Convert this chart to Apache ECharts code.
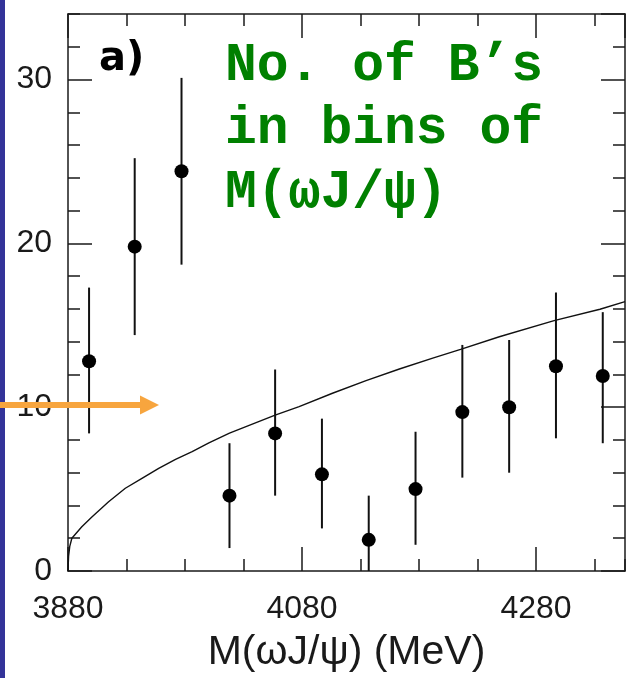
<!DOCTYPE html>
<html><head><meta charset="utf-8">
<script src="https://cdn.jsdelivr.net/npm/echarts@6/dist/echarts.min.js"></script>
<style>html,body{margin:0;padding:0;background:#fff}#c{width:628px;height:678px}</style>
</head><body><div id="c"></div>
<script>
// ---- data ----
const massCenters = [3898, 3937, 3977, 4018, 4057, 4097, 4137, 4177, 4217, 4257, 4297, 4337];
const counts      = [12.8, 19.8, 24.4, 4.6, 8.4, 5.9, 1.9, 5.0, 9.7, 10.0, 12.5, 11.9];
const errLow      = [8.4, 14.4, 18.7, 1.4, 4.6, 2.6, 0.0, 1.6, 5.7, 6.0, 8.1, 7.8];
const errHigh     = [17.3, 25.2, 30.1, 7.8, 12.3, 9.3, 4.6, 8.5, 13.8, 14.1, 17.0, 15.8];
const curveMass   = [3880, 3880.5, 3881.5, 3883.3, 3891.8, 3900.4, 3914.7, 3929, 3943.2, 3957.5, 3971.9, 3986.1, 4000.4, 4018, 4057, 4077.5, 4106, 4134.7, 4163.2, 4191.7, 4215.5, 4248.6, 4295.4, 4334.6, 4356];
const curveValue  = [0, 0.9, 1.5, 2.0, 2.7, 3.3, 4.23, 5.05, 5.66, 6.27, 6.82, 7.28, 7.82, 8.42, 9.52, 10.03, 10.85, 11.62, 12.33, 12.99, 13.53, 14.3, 15.28, 15.98, 16.44];
const xTickLabels = [3880, 4080, 4280];
const yTickLabels = [0, 10, 20, 30];
const noteLines   = ['No. of B\u2019s', 'in bins of', 'M(\u03c9J/\u03c8)'];
const panelLabel  = 'a)';
const xTitle      = 'M(\u03c9J/\u03c8) (MeV)';

const X_MIN = 3880, X_MAX = 4356, Y_MIN = 0, Y_MAX = 34;
const INK = '#1a1a1a';

function mkAxis(pos, interval, tickLen, withLine, min, max) {
  return {
    type: 'value', position: pos, min: min, max: max, interval: interval,
    axisLine: { show: withLine, onZero: false, lineStyle: { color: INK, width: 1.5 } },
    axisTick: { show: true, inside: true, length: tickLen, lineStyle: { color: INK, width: 1.5 } },
    minorTick: { show: false },
    splitLine: { show: false },
    axisLabel: { show: false }
  };
}

const xMajor = mkAxis('bottom', 200, 24, true, X_MIN, X_MAX);
xMajor.axisLabel = {
  show: true, margin: 22, fontSize: 32, fontFamily: 'Liberation Sans', color: INK,
  showMaxLabel: false, showMinLabel: true,
  formatter: v => xTickLabels.includes(v) ? String(v) : ''
};
xMajor.name = xTitle;
xMajor.nameLocation = 'middle';
xMajor.nameGap = 61;
xMajor.nameTextStyle = { fontSize: 41, fontFamily: 'Liberation Sans', color: INK };

const yMajor = mkAxis('left', 10, 24, true, Y_MIN, Y_MAX);
yMajor.axisLabel = {
  show: true, margin: 16, fontSize: 32, fontFamily: 'Liberation Sans', color: INK,
  showMaxLabel: false, showMinLabel: true,
  formatter: v => yTickLabels.includes(v) ? String(v) : ''
};

const chart = echarts.init(document.getElementById('c'), null, { renderer: 'canvas' });
chart.setOption({
  animation: false,
  backgroundColor: '#ffffff',
  grid: { left: 68, right: 3, top: 14, bottom: 107, containLabel: false, outerBoundsMode: 'none' },
  xAxis: [
    xMajor,
    mkAxis('bottom', 50, 12, false, X_MIN, X_MAX),
    mkAxis('top', 200, 24, true, X_MIN, X_MAX),
    mkAxis('top', 50, 12, false, X_MIN, X_MAX)
  ],
  yAxis: [
    yMajor,
    mkAxis('left', 2, 12, false, Y_MIN, Y_MAX),
    mkAxis('right', 10, 24, true, Y_MIN, Y_MAX),
    mkAxis('right', 2, 12, false, Y_MIN, Y_MAX)
  ],
  series: [
    {
      type: 'line', xAxisIndex: 0, yAxisIndex: 0, silent: true,
      showSymbol: false, smooth: false, clip: true,
      lineStyle: { color: '#111', width: 1.4 },
      data: curveMass.map((m, i) => [m, curveValue[i]])
    },
    {
      type: 'custom', xAxisIndex: 0, yAxisIndex: 0, silent: true,
      encode: { x: 0, y: [1, 2] },
      data: massCenters.map((m, i) => [m, errLow[i], errHigh[i]]),
      renderItem: function (params, api) {
        const p1 = api.coord([api.value(0), api.value(1)]);
        const p2 = api.coord([api.value(0), api.value(2)]);
        return { type: 'line', shape: { x1: p1[0], y1: p1[1], x2: p2[0], y2: p2[1] },
                 style: { stroke: '#111', lineWidth: 2 } };
      }
    },
    {
      type: 'scatter', xAxisIndex: 0, yAxisIndex: 0, silent: true,
      symbol: 'circle', symbolSize: 14,
      itemStyle: { color: '#000', opacity: 1 },
      data: massCenters.map((m, i) => [m, counts[i]])
    }
  ],
  graphic: [
    { type: 'rect', z: 100, shape: { x: 0, y: 0, width: 5, height: 678 }, style: { fill: '#333399' } },
    { type: 'line', z: 101, shape: { x1: 0, y1: 405, x2: 143, y2: 405 }, style: { stroke: '#f7a53e', lineWidth: 6 } },
    { type: 'polygon', z: 101, shape: { points: [[140, 395.5], [159, 405], [140, 414.5]] }, style: { fill: '#f7a53e' } },
    { type: 'text', z: 100, x: 99, y: 60, style: { text: panelLabel, font: 'bold 40px "DejaVu Sans"', fill: '#000', verticalAlign: 'middle' } },
    { type: 'text', z: 100, x: 225, y: 67, style: { text: noteLines[0], font: 'bold 53px "Liberation Mono"', fill: '#008000', verticalAlign: 'middle' } },
    { type: 'text', z: 100, x: 225, y: 130, style: { text: noteLines[1], font: 'bold 53px "Liberation Mono"', fill: '#008000', verticalAlign: 'middle' } },
    { type: 'text', z: 100, x: 225, y: 194, style: { text: noteLines[2], font: 'bold 53px "Liberation Mono"', fill: '#008000', verticalAlign: 'middle' } }
  ]
});
</script>
</body></html>
